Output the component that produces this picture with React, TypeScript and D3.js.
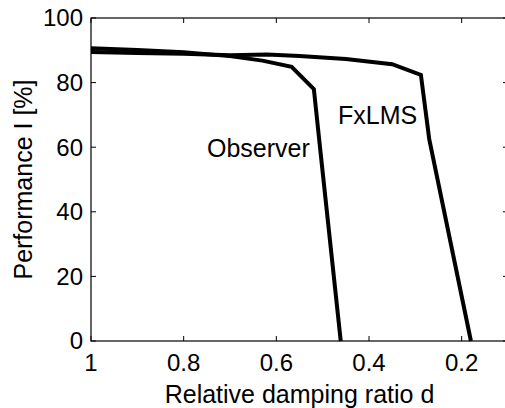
import React from "react";
import * as d3 from "d3";

const observerD = [1, 0.9, 0.8, 0.7, 0.63, 0.567, 0.519, 0.505, 0.461];
const observerP = [90.6, 90.1, 89.4, 88.2, 86.8, 84.9, 78, 59, 0];
const fxlmsD = [1, 0.9, 0.8, 0.7, 0.62, 0.55, 0.45, 0.35, 0.288, 0.27, 0.18];
const fxlmsP = [89.5, 89.2, 88.9, 88.5, 88.7, 88.2, 87.3, 85.7, 82.4, 62.5, 0];
const xTicks = [1, 0.8, 0.6, 0.4, 0.2];
const yTicks = [0, 20, 40, 60, 80, 100];

const W = 505;
const H = 408;
const L = 91;
const R = 508;
const T = 18;
const B = 341;

export default function App() {
  const x = d3.scaleLinear().domain([1, 0.1]).range([L, R]);
  const y = d3.scaleLinear().domain([0, 100]).range([B, T]);
  const line = d3
    .line<[number, number]>()
    .x((d) => x(d[0]))
    .y((d) => y(d[1]));
  const obs = observerD.map((d, i) => [d, observerP[i]] as [number, number]);
  const fx = fxlmsD.map((d, i) => [d, fxlmsP[i]] as [number, number]);
  const font = "'Liberation Sans', Arial, Helvetica, sans-serif";
  const tl = 5;
  return (
    <svg
      width={W}
      height={H}
      style={{ position: "absolute", left: 0, top: 0, display: "block", background: "#fff" }}
      fontFamily={font}
    >
      <rect x={0} y={0} width={W} height={H} fill="#fff" />
      {/* lines */}
      <path d={line(fx) || ""} fill="none" stroke="#000" strokeWidth={4} strokeLinejoin="miter" />
      <path d={line(obs) || ""} fill="none" stroke="#000" strokeWidth={4} strokeLinejoin="miter" />
      {/* axes box */}
      <rect x={L} y={T} width={R - L} height={B - T} fill="none" stroke="#000" strokeWidth={1.2} />
      {xTicks.map((t) => (
        <g key={"x" + t}>
          <line x1={x(t)} x2={x(t)} y1={B} y2={B - tl} stroke="#000" strokeWidth={1} />
          <line x1={x(t)} x2={x(t)} y1={T} y2={T + tl} stroke="#000" strokeWidth={1} />
          <text x={x(t)} y={371} textAnchor="middle" fontSize={24} fill="#000">
            {String(t)}
          </text>
        </g>
      ))}
      {yTicks.map((t) => (
        <g key={"y" + t}>
          <line x1={L} x2={L + tl} y1={y(t)} y2={y(t)} stroke="#000" strokeWidth={1} />
          <line x1={R} x2={R - tl} y1={y(t)} y2={y(t)} stroke="#000" strokeWidth={1} />
          <text x={83} y={y(t)} dy="0.35em" textAnchor="end" fontSize={24} fill="#000">
            {String(t)}
          </text>
        </g>
      ))}
      <text x={(L + R) / 2} y={403} textAnchor="middle" fontSize={25} fill="#000">
        Relative damping ratio d
      </text>
      <text
        transform={`translate(31.5, ${(T + B) / 2}) rotate(-90)`}
        textAnchor="middle"
        fontSize={25}
        fill="#000"
      >
        Performance I [%]
      </text>
      <text x={207} y={156.5} fontSize={25} fill="#000">
        Observer
      </text>
      <text x={338} y={124} fontSize={25} fill="#000">
        FxLMS
      </text>
    </svg>
  );
}
